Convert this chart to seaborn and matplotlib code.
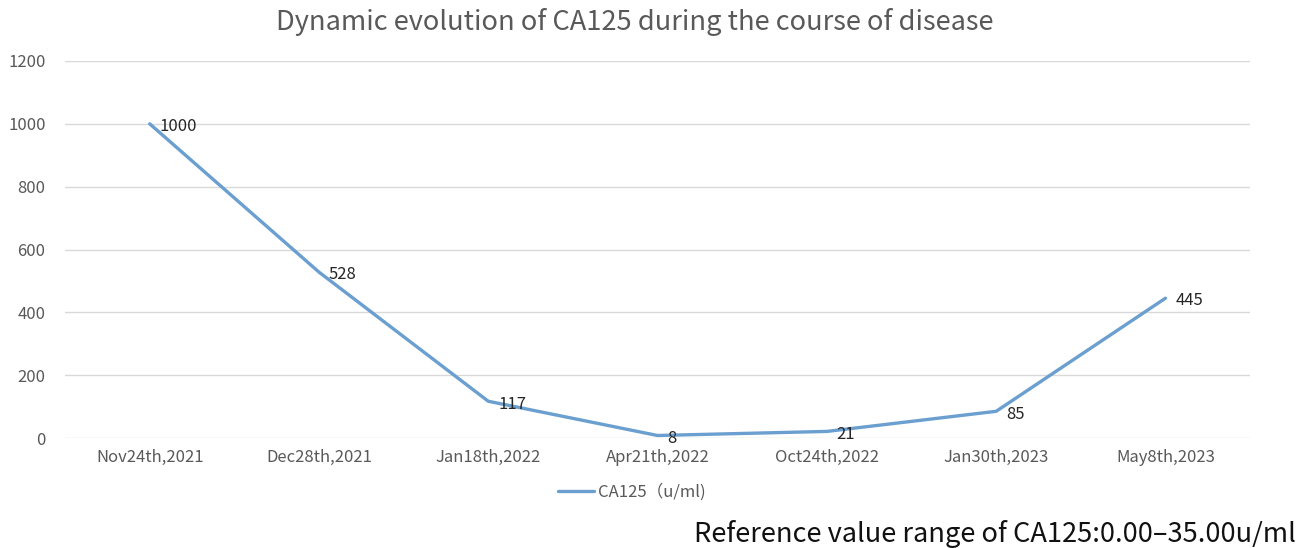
import matplotlib
matplotlib.use("Agg")
import matplotlib.pyplot as plt
import seaborn as sns
import pandas as pd

dates = ["Nov24th,2021", "Dec28th,2021", "Jan18th,2022", "Apr21th,2022",
         "Oct24th,2022", "Jan30th,2023", "May8th,2023"]
values = [1000, 528, 117, 8, 21, 85, 445]
yticks = [0, 200, 400, 600, 800, 1000, 1200]
series_name = "CA125（u/ml)"

sns.set_theme(style="white")
plt.rcParams['font.family'] = ['Noto Sans CJK SC', 'DejaVu Sans']

df = pd.DataFrame({"date": dates, "value": values, "series": series_name})

fig = plt.figure(figsize=(13.09, 5.48), dpi=100)
ax = fig.add_axes([0.0497, 0.2007, 0.9053, 0.688])

sns.lineplot(data=df, x="date", y="value", hue="series", sort=False,
             palette=["#6A9FCF"], linewidth=2.4, ax=ax, legend=True)

for i, v in enumerate(values):
    ax.annotate(str(v), (i, v), xytext=(7, -2), textcoords="offset points",
                ha="left", va="center", fontsize=12, color="#262626")

ax.set_xlim(-0.5, len(dates) - 0.5)
ax.set_ylim(0, 1200)
ax.set_yticks(yticks)
ax.set_yticklabels([str(t) for t in yticks])
ax.grid(axis="y", color="#D9D9D9", linewidth=1)
ax.set_axisbelow(True)
for s in ax.spines.values():
    s.set_visible(False)
ax.tick_params(axis="both", length=0, labelsize=12, labelcolor="#595959")
ax.tick_params(axis="y", pad=14)
ax.tick_params(axis="x", pad=8)
ax.set_xlabel("")
ax.set_ylabel("")

ax.set_title("Dynamic evolution of CA125 during the course of disease",
             fontsize=19.6, color="#595959", pad=22, x=0.481)

leg = ax.legend(loc="center", bbox_to_anchor=(0.478, -0.143), frameon=False,
                fontsize=12, handlelength=2.2, handletextpad=0.2)
for t in leg.get_texts():
    t.set_color("#595959")

fig.text(0.99, 0.025, "Reference value range of CA125:0.00–35.00u/ml",
         ha="right", va="center", fontsize=19.6, color="#111111")

fig.savefig("out.png", dpi=100, facecolor="white")
